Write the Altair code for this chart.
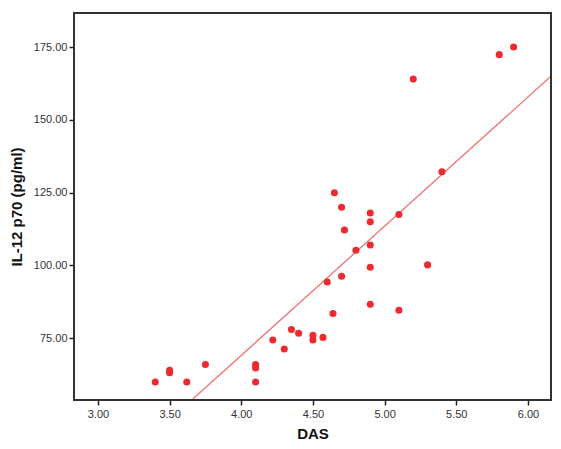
import altair as alt
import pandas as pd

das = [3.40, 3.50, 3.50, 3.62, 3.75, 4.10, 4.10, 4.10, 4.22, 4.30, 4.35, 4.40,
       4.50, 4.50, 4.57, 4.64, 4.60, 4.70, 4.80, 4.65, 4.70, 4.72, 4.90, 4.90,
       4.90, 4.90, 4.90, 5.10, 5.10, 5.30, 5.40, 5.20, 5.80, 5.90]
il12 = [60.0, 63.2, 64.0, 60.0, 66.0, 66.0, 64.8, 60.0, 74.4, 71.3, 78.0, 76.7,
        76.0, 74.4, 75.3, 83.5, 94.3, 96.3, 105.2, 125.0, 120.0, 112.2, 118.0, 115.0,
        107.0, 99.4, 86.7, 117.5, 84.6, 100.2, 132.2, 164.0, 172.4, 175.0]

x_domain = [2.833, 6.161]
y_domain = [53.8, 186.7]
x_ticks = [3.0, 3.5, 4.0, 4.5, 5.0, 5.5, 6.0]
y_ticks = [75, 100, 125, 150, 175]

df = pd.DataFrame({"DAS": das, "IL12": il12})

font = "Liberation Sans"

x_enc = alt.X("DAS:Q", scale=alt.Scale(domain=x_domain, nice=False, zero=False),
              axis=alt.Axis(title="DAS", values=x_ticks, format=".2f", grid=False,
                            domain=False, tickSize=5, tickColor="#222", tickWidth=1.5,
                            labelFont=font, labelFontSize=11, labelColor="#333",
                            labelPadding=3, titleFont=font, titleFontSize=15,
                            titleFontWeight="bold", titleColor="#111", titlePadding=7))
y_enc = alt.Y("IL12:Q", scale=alt.Scale(domain=y_domain, nice=False, zero=False),
              axis=alt.Axis(title="IL-12 p70 (pg/ml)", values=y_ticks, format=".2f", grid=False,
                            domain=False, tickSize=5, tickColor="#222", tickWidth=1.5,
                            labelFont=font, labelFontSize=11, labelColor="#333",
                            labelPadding=2, titleFont=font, titleFontSize=15,
                            titleFontWeight="bold", titleColor="#111", titlePadding=9))

points = alt.Chart(df).mark_circle(size=50, color="#ee2a30", opacity=1).encode(x=x_enc, y=y_enc)

line = alt.Chart(df).transform_regression(
    "DAS", "IL12", extent=x_domain
).mark_line(color="#f26a6a", strokeWidth=1.2, clip=True).encode(x=x_enc, y=y_enc)

frame = alt.Chart(df).mark_rect(fill=None, stroke="#333", strokeWidth=1.5).encode(
    x=alt.value(0), x2=alt.value(477), y=alt.value(0), y2=alt.value(387)
)

chart = alt.layer(line, points, frame).properties(
    width=477, height=387,
    padding={"left": 66, "top": 5, "right": 2, "bottom": 49},
    autosize=alt.AutoSizeParams(type="none"),
).configure_view(strokeWidth=0).configure(background="white")

chart.save("out.html", embed_options={"renderer": "svg", "actions": False})
